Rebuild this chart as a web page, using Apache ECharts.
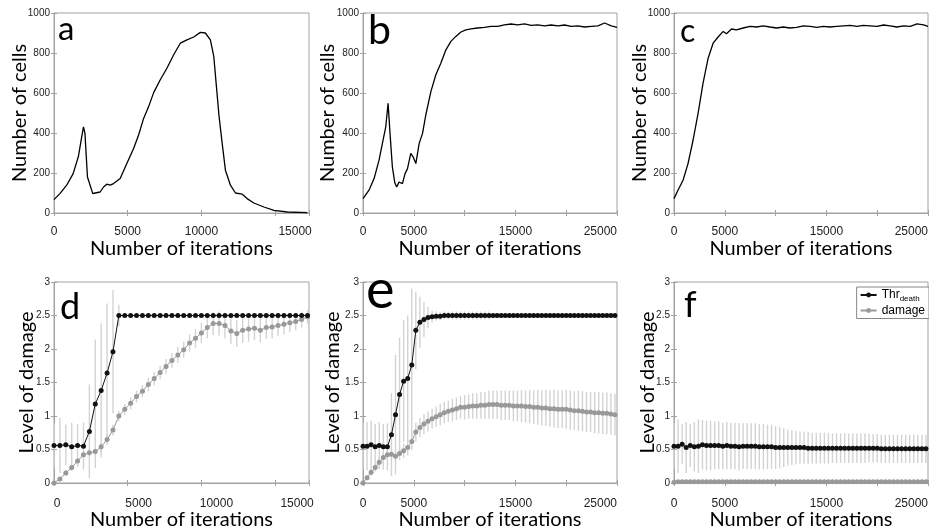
<!DOCTYPE html>
<html><head><meta charset="utf-8">
<script src="https://cdn.jsdelivr.net/npm/echarts@6/dist/echarts.min.js"></script>
<style>html,body{margin:0;padding:0;background:#fff}#c{width:929px;height:531px}</style>
</head><body><div id="c"></div>
<script>
// ---- panel a ----
const aIter = [0,400,860,1300,1650,1880,2000,2100,2270,2450,2630,2790,3130,3360,3580,3810,4040,4490,4940,5400,5740,6080,6420,6760,7210,7660,8120,8570,9020,9480,9930,10270,10610,10840,11020,11200,11410,11630,11970,12310,12770,13100,13560,14240,14920,15830,17190];
const aCells = [67,97,139,197,281,381,431,398,180,139,97,100,105,130,144,139,147,172,247,323,390,473,532,602,666,724,791,849,866,880,903,900,866,783,632,482,348,214,139,100,94,72,50,30,13,5,2];
// ---- panel b ----
const bIter = [0,590,1090,1580,1910,2240,2470,2660,2890,3130,3320,3550,3880,4140,4380,4700,4930,5200,5530,5860,6180,6680,7170,7660,8160,8650,9140,9640,10130,10630,11280,11940,12600,13260,13910,14570,15230,15890,16550,17200,17860,18520,19180,19840,20490,21150,21810,22470,23130,23780,24440,25000];
const bCells = [72,114,172,264,348,431,548,398,231,151,130,155,147,197,222,298,281,247,348,398,490,607,691,749,816,858,883,905,916,921,925,928,933,933,941,945,941,946,938,941,936,940,936,940,933,936,930,933,936,950,936,928];
// ---- panel c ----
const cIter = [0,390,890,1380,1880,2370,2860,3360,3850,4340,4840,5160,5660,6150,6810,7470,8130,8780,9440,10100,10760,11410,12070,12730,13390,14050,14700,15360,16020,16680,17340,17990,18650,19310,19970,20630,21280,21940,22600,23260,23910,24570,25000];
const cCells = [72,114,164,247,365,498,649,774,849,880,908,896,920,916,925,933,930,936,930,925,930,925,928,936,933,928,933,930,933,936,938,933,938,936,933,940,936,930,936,933,946,941,933];
// ---- panel d ----
const dIter = [0,400,800,1200,1600,2000,2400,2800,3200,3600,4000,4400,4800,5200,5600,6000,6400,6800,7200,7600,8000,8400,8800,9200,9600,10000,10400,10800,11200,11600,12000,12400,12800,13200,13600,14000,14400,14800,15200,15600,16000,16400,16800,17200];
const dThr = [0.56,0.56,0.57,0.54,0.56,0.55,0.77,1.18,1.38,1.64,1.96,2.5,2.5,2.5,2.5,2.5,2.5,2.5,2.5,2.5,2.5,2.5,2.5,2.5,2.5,2.5,2.5,2.5,2.5,2.5,2.5,2.5,2.5,2.5,2.5,2.5,2.5,2.5,2.5,2.5,2.5,2.5,2.5,2.5];
const dThrErr = [0.33,0.41,0.30,0.36,0.32,0.35,0.70,0.96,1.00,1.04,0.92,0.16,0,0,0,0,0,0,0,0,0,0,0,0,0,0,0,0,0,0,0,0,0,0,0,0,0,0,0,0,0,0,0,0];
const dDam = [0,0.06,0.15,0.23,0.33,0.42,0.45,0.47,0.54,0.65,0.79,1.0,1.10,1.19,1.29,1.37,1.47,1.56,1.65,1.74,1.83,1.91,1.99,2.09,2.16,2.24,2.32,2.38,2.38,2.35,2.27,2.23,2.28,2.30,2.31,2.28,2.32,2.33,2.35,2.37,2.39,2.41,2.44,2.48];
const dDamErr = [0.02,0.03,0.04,0.04,0.05,0.05,0.06,0.06,0.07,0.08,0.08,0.08,0.08,0.09,0.09,0.09,0.1,0.1,0.1,0.11,0.11,0.12,0.12,0.13,0.14,0.15,0.16,0.17,0.18,0.19,0.2,0.2,0.19,0.19,0.18,0.18,0.17,0.17,0.16,0.15,0.14,0.13,0.12,0.1];
// ---- panels e and f share iterations ----
const efIter = [0,400,800,1200,1600,2000,2400,2800,3200,3600,4000,4400,4800,5200,5600,6000,6400,6800,7200,7600,8000,8400,8800,9200,9600,10000,10400,10800,11200,11600,12000,12400,12800,13200,13600,14000,14400,14800,15200,15600,16000,16400,16800,17200,17600,18000,18400,18800,19200,19600,20000,20400,20800,21200,21600,22000,22400,22800,23200,23600,24000,24400,24800];
const eThr = [0.55,0.55,0.57,0.54,0.56,0.54,0.54,0.72,1.02,1.32,1.52,1.56,1.76,2.28,2.40,2.44,2.47,2.48,2.49,2.49,2.5,2.5,2.5,2.5,2.5,2.5,2.5,2.5,2.5,2.5,2.5,2.5,2.5,2.5,2.5,2.5,2.5,2.5,2.5,2.5,2.5,2.5,2.5,2.5,2.5,2.5,2.5,2.5,2.5,2.5,2.5,2.5,2.5,2.5,2.5,2.5,2.5,2.5,2.5,2.5,2.5,2.5,2.5];
const eThrErr = [0.35,0.36,0.36,0.34,0.35,0.34,0.35,0.62,0.89,0.85,0.91,0.94,1.14,0.58,0.38,0.26,0.16,0.09,0.07,0.06,0.06,0.06,0.06,0.06,0.06,0.06,0.06,0.06,0.06,0.06,0.06,0.06,0,0,0,0,0,0,0,0,0,0,0,0,0,0,0,0,0,0,0,0,0,0,0,0,0,0,0,0,0,0,0];
const eDam = [0,0.08,0.16,0.23,0.31,0.38,0.42,0.43,0.40,0.44,0.48,0.53,0.62,0.76,0.83,0.88,0.92,0.96,0.99,1.02,1.05,1.07,1.09,1.11,1.13,1.13,1.14,1.15,1.15,1.16,1.16,1.17,1.17,1.17,1.16,1.16,1.16,1.15,1.15,1.15,1.14,1.14,1.13,1.13,1.12,1.12,1.11,1.11,1.10,1.10,1.10,1.09,1.08,1.08,1.07,1.06,1.06,1.05,1.05,1.04,1.04,1.03,1.02];
const eDamErr = [0.03,0.04,0.05,0.06,0.07,0.08,0.08,0.09,0.1,0.1,0.11,0.12,0.13,0.14,0.14,0.15,0.15,0.15,0.15,0.16,0.16,0.16,0.17,0.17,0.17,0.18,0.18,0.19,0.19,0.2,0.2,0.21,0.21,0.21,0.22,0.22,0.22,0.23,0.23,0.24,0.24,0.25,0.25,0.26,0.26,0.27,0.27,0.28,0.28,0.28,0.29,0.29,0.29,0.3,0.3,0.3,0.3,0.31,0.31,0.31,0.31,0.31,0.31];
const fThr = [0.55,0.55,0.58,0.53,0.56,0.54,0.55,0.57,0.56,0.56,0.56,0.56,0.55,0.56,0.55,0.55,0.54,0.55,0.55,0.55,0.55,0.54,0.54,0.54,0.54,0.53,0.53,0.53,0.53,0.53,0.53,0.53,0.53,0.52,0.52,0.52,0.52,0.52,0.52,0.52,0.52,0.52,0.52,0.52,0.52,0.52,0.52,0.52,0.52,0.52,0.52,0.51,0.51,0.51,0.51,0.51,0.51,0.51,0.51,0.51,0.51,0.51,0.51];
const fThrErr = [0.34,0.40,0.30,0.38,0.32,0.37,0.40,0.37,0.37,0.37,0.36,0.36,0.35,0.35,0.35,0.35,0.35,0.34,0.34,0.34,0.34,0.34,0.34,0.33,0.33,0.32,0.31,0.29,0.27,0.26,0.25,0.24,0.24,0.24,0.23,0.23,0.23,0.23,0.23,0.22,0.22,0.22,0.22,0.22,0.22,0.22,0.22,0.22,0.21,0.21,0.21,0.21,0.21,0.21,0.21,0.21,0.21,0.21,0.21,0.21,0.21,0.21,0.21];
const fDam = [0.01,0.02,0.02,0.02,0.02,0.02,0.02,0.02,0.02,0.02,0.02,0.02,0.02,0.02,0.02,0.02,0.02,0.02,0.02,0.02,0.02,0.02,0.02,0.02,0.02,0.02,0.02,0.02,0.02,0.02,0.02,0.02,0.02,0.02,0.02,0.02,0.02,0.02,0.02,0.02,0.02,0.02,0.02,0.02,0.02,0.02,0.02,0.02,0.02,0.02,0.02,0.02,0.02,0.02,0.02,0.02,0.02,0.02,0.02,0.02,0.02,0.02,0.02];
const fDamErr = [0.01,0.015,0.015,0.015,0.015,0.015,0.015,0.015,0.015,0.015,0.015,0.015,0.015,0.015,0.015,0.015,0.015,0.015,0.015,0.015,0.015,0.015,0.015,0.015,0.015,0.015,0.015,0.015,0.015,0.015,0.015,0.015,0.015,0.015,0.015,0.015,0.015,0.015,0.015,0.015,0.015,0.015,0.015,0.015,0.015,0.015,0.015,0.015,0.015,0.015,0.015,0.015,0.015,0.015,0.015,0.015,0.015,0.015,0.015,0.015,0.015,0.015,0.015];
// ---- text / ticks ----
const panelLetters = ['a','b','c','d','e','f'];
const xTickLabels = [[0,5000,10000,15000],[0,5000,15000,25000],[0,5000,15000,25000],[0,5000,10000,15000],[0,5000,15000,25000],[0,5000,15000,25000]];
const xAxisTitle = 'Number of iterations';
const yAxisTitles = ['Number of cells','Number of cells','Number of cells','Level of damage','Level of damage','Level of damage'];
const legendNames = ['Thr','damage'];

// ---- layout (not data) ----
const grids = [
  {left:54, top:13, width:255, height:200},
  {left:363, top:13, width:254, height:200},
  {left:674, top:13, width:254, height:200},
  {left:54, top:282, width:255, height:201},
  {left:363, top:282, width:254, height:201},
  {left:674, top:282, width:254, height:201}
];
const xMax = [17300,25000,25000,17300,25000,25000];
const yMax = [1000,1000,1000,3,3,3];
const yInt = [200,200,200,0.5,0.5,0.5];
const labelPad = [{15000:40},{},{},{0:6,5000:22,10000:30,15000:44},{},{}];
const letterStyle = [
  {left:53, top:8, size:33}, {left:363, top:5, size:41}, {left:675, top:11, size:32},
  {left:55, top:284, size:36}, {left:361, top:259, size:54}, {left:679, top:282, size:36}
];
const yNameGap = [24,25,24,17,20,16];
const xNameGap = [26,26,26,27,27,27];
const xLabMargin = [13,13,13,15,15,15];

const FONT_T = 'Lato';
const FONT_L = 'Liberation Sans';
const AX = '#a3a3a3';

const xAxes = [], yAxes = [], titles = [];
grids.forEach((g, i) => {
  const rich = {};
  Object.values(labelPad[i]).forEach(p => { rich['p' + p] = {padding:[0,0,0,p], fontSize:12, fontFamily:FONT_L, color:'#222'}; });
  xAxes.push({
    gridIndex:i, type:'value', min:0, max:xMax[i], interval:5000,
    name:xAxisTitle, nameLocation:'middle', nameGap:xNameGap[i], nameMoveOverlap:false,
    nameTextStyle:{fontFamily:FONT_T, fontSize:20, color:'#000'},
    axisLine:{show:true, onZero:false, lineStyle:{color:AX}},
    axisTick:{show:true, inside:true, length:3, lineStyle:{color:AX}},
    splitLine:{show:false},
    axisLabel:{
      fontFamily:FONT_L, fontSize:12, color:'#222', margin:xLabMargin[i],
      showMinLabel:true, showMaxLabel:true, hideOverlap:false,
      alignMaxLabel: xMax[i] === 25000 ? 'right' : null,
      rich: rich,
      formatter: v => {
        if (xTickLabels[i].indexOf(v) < 0) return '';
        const p = labelPad[i][v];
        return p ? '{p' + p + '|' + v + '}' : String(v);
      }
    }
  });
  xAxes.push({
    gridIndex:i, type:'value', position:'top', min:0, max:xMax[i], interval:5000,
    axisLine:{show:false}, axisLabel:{show:false}, splitLine:{show:false},
    axisTick:{show:true, inside:true, length:3, lineStyle:{color:AX}}
  });
  yAxes.push({
    gridIndex:i, type:'value', min:0, max:yMax[i], interval:yInt[i],
    name:yAxisTitles[i], nameLocation:'middle', nameGap:yNameGap[i], nameMoveOverlap:false,
    nameTextStyle:{fontFamily:FONT_T, fontSize:20, color:'#000'},
    axisLine:{show:true, lineStyle:{color:AX}},
    axisTick:{show:true, inside:true, length:3, lineStyle:{color:AX}},
    splitLine:{show:false},
    axisLabel:{fontFamily:FONT_L, fontSize:10, color:'#222', margin:4, formatter: v => String(v)}
  });
  yAxes.push({
    gridIndex:i, type:'value', position:'right', min:0, max:yMax[i], interval:yInt[i],
    axisLine:{show:false}, axisLabel:{show:false}, splitLine:{show:false},
    axisTick:{show:true, inside:true, length:3, lineStyle:{color:AX}}
  });
  titles.push({
    text:panelLetters[i], left:letterStyle[i].left, top:letterStyle[i].top,
    textStyle:{fontFamily:FONT_T, fontSize:letterStyle[i].size, fontWeight:'normal', color:'#000'}
  });
});

function pairs(xs, ys) { return xs.map((x, k) => [x, ys[k]]); }
function curve(i, xs, ys) {
  return {type:'line', xAxisIndex:2*i, yAxisIndex:2*i, data:pairs(xs, ys), showSymbol:false,
    lineStyle:{color:'#000', width:1.3}, itemStyle:{color:'#000'}, z:3, silent:true};
}
function dots(i, name, xs, ys, color, lw) {
  return {type:'line', name:name, xAxisIndex:2*i, yAxisIndex:2*i, data:pairs(xs, ys),
    showSymbol:true, symbol:'circle', symbolSize:5,
    lineStyle:{color:color, width:lw}, itemStyle:{color:color}, z:4, silent:true};
}
function errs(i, xs, ys, es) {
  return {type:'custom', xAxisIndex:2*i, yAxisIndex:2*i, clip:true, z:1, silent:true,
    data: xs.map((x, k) => [x, ys[k], es[k]]),
    encode:{x:0, y:1},
    renderItem: (params, api) => {
      const x = api.value(0), y = api.value(1), e = api.value(2);
      if (!(e > 0)) return {type:'group', children:[]};
      const p1 = api.coord([x, y - e]), p2 = api.coord([x, y + e]);
      return {type:'line', shape:{x1:p1[0], y1:p1[1], x2:p2[0], y2:p2[1]},
        style:{stroke:'#d3d3d3', lineWidth:1.4}};
    }};
}
const BLK = '#111', GRY = '#999';
const series = [
  curve(0, aIter, aCells), curve(1, bIter, bCells), curve(2, cIter, cCells),
  errs(3, dIter, dThr, dThrErr), errs(3, dIter, dDam, dDamErr),
  dots(3, legendNames[1], dIter, dDam, GRY, 1), dots(3, legendNames[0], dIter, dThr, BLK, 1),
  errs(4, efIter, eThr, eThrErr), errs(4, efIter, eDam, eDamErr),
  dots(4, legendNames[1], efIter, eDam, GRY, 1), dots(4, legendNames[0], efIter, eThr, BLK, 1),
  errs(5, efIter, fThr, fThrErr), errs(5, efIter, fDam, fDamErr),
  dots(5, legendNames[1], efIter, fDam, GRY, 1), dots(5, legendNames[0], efIter, fThr, BLK, 1)
];

const chart = echarts.init(document.getElementById('c'), null, {renderer:'canvas'});
chart.setOption({
  animation:false,
  backgroundColor:'#fff',
  title:titles,
  grid:grids.map(g => Object.assign({show:true, borderColor:AX, borderWidth:1, backgroundColor:'transparent',
    containLabel:false, outerBoundsMode:'none'}, g)),
  xAxis:xAxes,
  yAxis:yAxes,
  legend:{
    data:legendNames, orient:'vertical', right:0, top:287,
    backgroundColor:'#fff', borderColor:'#888', borderWidth:1, borderRadius:0,
    padding:[2,4,2,3], itemGap:2, itemWidth:16, itemHeight:6,
    textStyle:{fontFamily:FONT_L, fontSize:12, color:'#000',
      rich:{t:{fontFamily:FONT_L, fontSize:12, color:'#000'}, s:{fontFamily:FONT_L, fontSize:8, color:'#000', padding:[7,0,0,0]}}},
    formatter: n => n === 'Thr' ? '{t|Thr}{s|death}' : '{t|' + n + '}'
  },
  series:series
});
</script></body></html>
